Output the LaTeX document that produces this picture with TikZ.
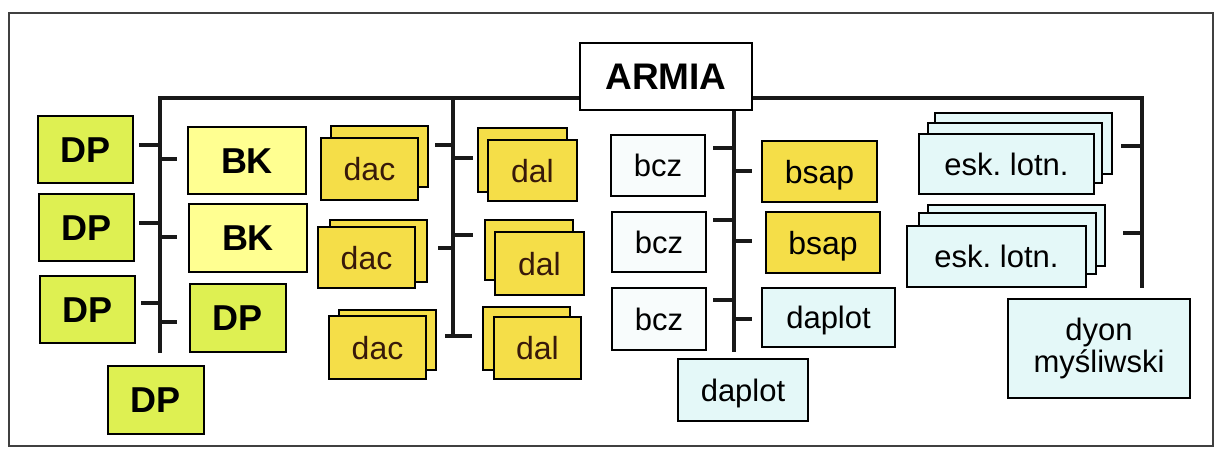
\documentclass[tikz,border=0pt]{standalone}
\usepackage{fontspec}
\setmainfont{Liberation Sans}
\usetikzlibrary{calc}
\definecolor{dpgreen}{RGB}{222,240,82}
\definecolor{bkyellow}{RGB}{255,255,145}
\definecolor{goldy}{RGB}{245,222,72}
\definecolor{palew}{RGB}{248,252,252}
\definecolor{cyanpale}{RGB}{228,248,248}
\definecolor{darktxt}{RGB}{55,25,10}
\tikzset{
  unit/.style={draw=black, line width=2.4pt, inner sep=0pt, outer sep=0pt, text depth=0pt},
  dpbox/.style={unit, fill=dpgreen, text height=25.8pt, font=\fontsize{36}{40}\selectfont\bfseries},
  bkbox/.style={unit, fill=bkyellow, text height=25.8pt, font=\fontsize{36}{40}\selectfont\bfseries},
  goldbox/.style={unit, fill=goldy, text=darktxt, text height=23pt, font=\fontsize{32}{36}\selectfont},
  yelbox/.style={unit, fill=goldy, text height=23pt, font=\fontsize{32}{36}\selectfont},
  whitebox/.style={unit, fill=palew, text height=22.3pt, font=\fontsize{31}{35}\selectfont},
  cyanbox/.style={unit, fill=cyanpale, text height=22.3pt, font=\fontsize{31}{35}\selectfont},
  topbox/.style={unit, fill=white, text height=26.5pt, font=\fontsize{37}{40}\selectfont\bfseries},
  conn/.style={line width=3.4pt, draw=black!90},
  tickline/.style={line width=3.2pt, draw=black!90},
}
\newcommand\bx[7]{\node[#2, minimum width={(#5-#3)*1pt}, minimum height={(#6-#4)*1pt}] (#1) at ({(#3+#5)/2},{(#4+#6)/2}) {#7};}
\begin{document}
\begin{tikzpicture}[x=1pt,y=-1pt]
\useasboundingbox (0,0) rectangle (1215,448);
\fill[white] (0,0) rectangle (1215,448);
\draw[black!75, line width=1.2pt] (9,13) rectangle (1213,446);

% coordinates of the trunk lines
\coordinate (v1t) at (160,98);
\coordinate (v1b) at (160,353);
\coordinate (v2t) at (453,98);
\coordinate (v2b) at (453,337);
\coordinate (v3t) at (734,110);
\coordinate (v3b) at (734,352);
\coordinate (v4t) at (1142,98);
\coordinate (v4b) at (1142,288);

% trunk lines
\draw[conn] (v1b) -- (v1t) -- (v4t) -- (v4b);
\draw[conn] (v2t) -- (v2b);
\draw[conn] (v3t) -- (v3b);

% ticks column 1
\draw[tickline] (160,145) -- (139,145);
\draw[tickline] (160,223) -- (139,223);
\draw[tickline] (160,303) -- (141,303);
\draw[tickline] (160,159) -- (177,159);
\draw[tickline] (160,237) -- (177,237);
\draw[tickline] (160,322) -- (177,322);
% ticks column 2
\draw[tickline] (453,145) -- (435,145);
\draw[tickline] (453,248) -- (438,248);
\draw[tickline] (445,336) -- (472,336);
\draw[tickline] (453,158) -- (473,158);
\draw[tickline] (453,235) -- (473,235);
% ticks column 3
\draw[tickline] (734,148) -- (713,148);
\draw[tickline] (734,220) -- (713,220);
\draw[tickline] (734,300) -- (713,300);
\draw[tickline] (734,171) -- (752,171);
\draw[tickline] (734,241) -- (752,241);
\draw[tickline] (734,319) -- (752,319);
% ticks column 4
\draw[tickline] (1142,146) -- (1121,146);
\draw[tickline] (1142,233) -- (1123,233);

% top
\bx{armia}{topbox}{580}{43}{752}{110}{ARMIA}

% column 1
\bx{dp1}{dpbox}{38}{116}{133}{183}{DP}
\bx{dp2}{dpbox}{39}{194}{134}{261}{DP}
\bx{dp3}{dpbox}{40}{276}{135}{343}{DP}
\bx{bk1}{bkbox}{188}{127}{306}{194}{BK}
\bx{bk2}{bkbox}{189}{204}{307}{272}{BK}
\bx{dp4}{dpbox}{190}{284}{286}{352}{DP}
\bx{dp5}{dpbox}{108}{366}{204}{434}{DP}

% dac stacks
\bx{dac1b}{goldbox}{331}{126}{428}{187}{}
\bx{dac1}{goldbox}{321}{138}{418}{200}{dac}
\bx{dac2b}{goldbox}{330}{220}{427}{282}{}
\bx{dac2}{goldbox}{318}{227}{415}{288}{dac}
\bx{dac3b}{goldbox}{339}{310}{436}{370}{}
\bx{dac3}{goldbox}{329}{316}{426}{379}{dac}

% dal stacks
\bx{dal1b}{goldbox}{478}{128}{567}{192}{}
\bx{dal1}{goldbox}{488}{140}{577}{201}{dal}
\bx{dal2b}{goldbox}{485}{220}{573}{280}{}
\bx{dal2}{goldbox}{495}{232}{584}{295}{dal}
\bx{dal3b}{goldbox}{483}{307}{570}{370}{}
\bx{dal3}{goldbox}{494}{317}{581}{379}{dal}

% bcz
\bx{bcz1}{whitebox}{611}{135}{705}{196}{bcz}
\bx{bcz2}{whitebox}{612}{212}{706}{272}{bcz}
\bx{bcz3}{whitebox}{612}{288}{706}{350}{bcz}

% column 3 right
\bx{bsap1}{yelbox}{762}{141}{877}{202}{bsap}
\bx{bsap2}{yelbox}{766}{212}{880}{273}{bsap}
\bx{daplot1}{cyanbox}{762}{288}{895}{347}{daplot}
\bx{daplot2}{cyanbox}{678}{359}{808}{421}{daplot}

% esk stacks
\bx{esk1c}{cyanbox}{935}{113}{1112}{174}{}
\bx{esk1b}{cyanbox}{928}{123}{1102}{183}{}
\bx{esk1}{cyanbox}{919}{134}{1094}{194}{esk.\ lotn.}
\bx{esk2c}{cyanbox}{928}{205}{1105}{266}{}
\bx{esk2b}{cyanbox}{919}{213}{1096}{274}{}
\bx{esk2}{cyanbox}{907}{226}{1086}{287}{esk.\ lotn.}

% dyon
\node[unit, fill=cyanpale, font=\fontsize{31}{35}\selectfont, text height=, text depth=, align=center, minimum width=182pt, minimum height=99pt] (dyon) at (1099,348.5) {dyon\\[-3pt]myśliwski};
\end{tikzpicture}
\end{document}
